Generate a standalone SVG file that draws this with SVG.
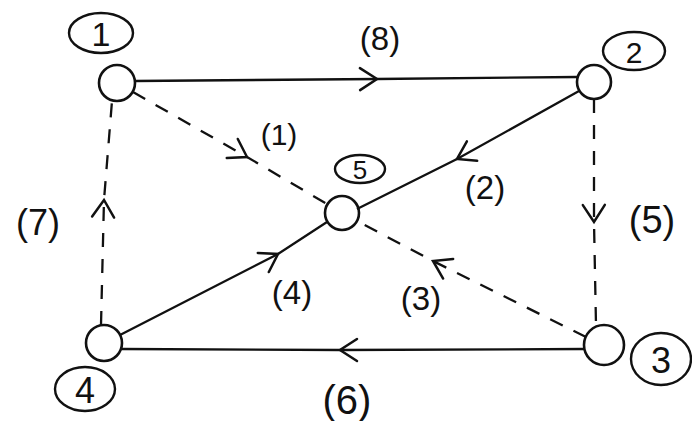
<svg xmlns="http://www.w3.org/2000/svg" width="692" height="421" viewBox="0 0 692 421">
  <style>
    .bg { fill: #ffffff; }
    .node { fill: none; stroke: #111111; stroke-width: 2.6; }
    .tag { fill: none; stroke: #111111; stroke-width: 2.4; }
    .tagtext { font-family: "Liberation Sans", "DejaVu Sans", sans-serif; font-size: 34px; fill: #111111; text-anchor: middle; dominant-baseline: central; }
    .edge { fill: none; stroke: #111111; stroke-width: 2.3; marker-mid: url(#chev); }
    .dash { stroke-dasharray: 14 12; }
    .elabel { font-family: "Liberation Sans", "DejaVu Sans", sans-serif; font-size: 33px; fill: #111111; text-anchor: middle; dominant-baseline: central; }
  </style>
  <defs>
    <marker id="chev" markerUnits="userSpaceOnUse" viewBox="-20 -13 23 26" refX="0" refY="0" markerWidth="23" markerHeight="26" orient="auto">
      <path d="M -17 -11 L 0 0 L -17 11" fill="none" stroke="#111111" stroke-width="2.5" stroke-linecap="round"/>
    </marker>
  </defs>
  <rect class="bg" x="0" y="0" width="692" height="421"/>

  <g id="connectors">
    <path id="e1-2" class="edge" d="M135 81 L377 79 L577 77"/>
    <path id="e1-5" class="edge dash" d="M133 92 L247 157 L327 204"/>
    <path id="e2-5" class="edge" d="M579 91 L457 159 L357 209"/>
    <path id="e2-3" class="edge dash" d="M594 99 L594 222 L596 325"/>
    <path id="e3-5" class="edge dash" d="M586 337 L433 261 L357 221"/>
    <path id="e4-5" class="edge" d="M120 335 L278 254 L327 222"/>
    <path id="e3-4" class="edge" d="M584 349 L340 350 L122 349"/>
    <path id="e4-1" class="edge dash" d="M101 325 L104 200 L112 101"/>
    <text class="elabel" x="380" y="38">(8)</text>
    <text class="elabel" x="279" y="134" style="font-size:30px">(1)</text>
    <text class="elabel" x="485" y="187">(2)</text>
    <text class="elabel" x="652" y="220" style="font-size:38px">(5)</text>
    <text class="elabel" x="421" y="298">(3)</text>
    <text class="elabel" x="292" y="292">(4)</text>
    <text class="elabel" x="347" y="400" style="font-size:40px">(6)</text>
    <text class="elabel" x="38" y="222" style="font-size:36px">(7)</text>
  </g>

  <g id="node1">
    <circle class="node" cx="117" cy="83" r="18"/>
    <ellipse class="tag" cx="101" cy="33" rx="32" ry="20"/>
    <text class="tagtext" x="101" y="34">1</text>
  </g>
  <g id="node2">
    <circle class="node" cx="594" cy="82" r="17"/>
    <ellipse class="tag" cx="634" cy="51" rx="31" ry="19"/>
    <text class="tagtext" x="634" y="52" style="font-size:30px">2</text>
  </g>
  <g id="node3">
    <circle class="node" cx="604" cy="345" r="20"/>
    <ellipse class="tag" cx="661" cy="359" rx="30" ry="26"/>
    <text class="tagtext" x="661" y="360" style="font-size:36px">3</text>
  </g>
  <g id="node4">
    <circle class="node" cx="104" cy="343" r="18"/>
    <ellipse class="tag" cx="85" cy="389" rx="30" ry="22"/>
    <text class="tagtext" x="85" y="390" style="font-size:36px">4</text>
  </g>
  <g id="node5">
    <circle class="node" cx="342" cy="213" r="17"/>
    <ellipse class="tag" cx="360" cy="169" rx="25" ry="14"/>
    <text class="tagtext" x="360" y="170" style="font-size:26px">5</text>
  </g>
</svg>
